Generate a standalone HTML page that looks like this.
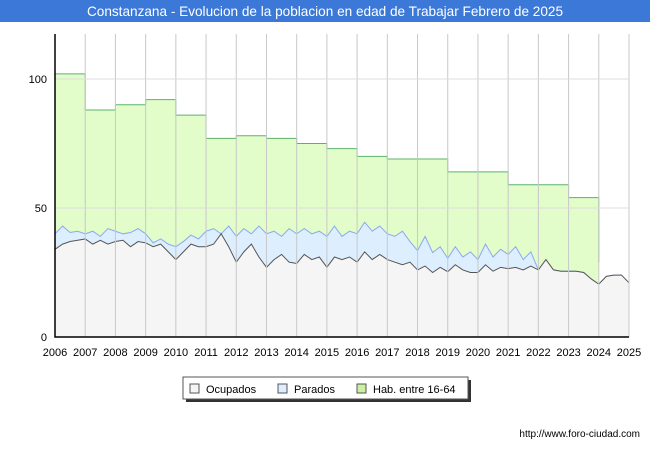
<!DOCTYPE html>
<html><head><meta charset="utf-8"><style>
body{margin:0;background:#fff;font-family:"Liberation Sans",sans-serif}
#wrap{position:relative;width:650px;height:450px;overflow:hidden}
</style></head><body>
<div id="wrap">
<svg id="svg" width="650" height="450" xmlns="http://www.w3.org/2000/svg">
<rect x="0" y="0" width="650" height="22" fill="#3c78d8"/>
<text x="325" y="16" fill="#fff" font-size="13.6" text-anchor="middle" font-family="Liberation Sans, sans-serif">Constanzana - Evolucion de la poblacion en edad de Trabajar Febrero de 2025</text>
<g id="plot"></g>
<g>
<rect x="186" y="380" width="285" height="22" fill="#333"/>
<rect x="183" y="377" width="285" height="22" fill="#fff" stroke="#555"/>
<rect x="190" y="384" width="9" height="9" fill="#f5f5f5" stroke="#555"/>
<text x="206" y="393" font-size="11">Ocupados</text>
<rect x="278" y="384" width="9" height="9" fill="#ddeeff" stroke="#555"/>
<text x="294" y="393" font-size="11">Parados</text>
<rect x="357" y="384" width="9" height="9" fill="#ccf0a0" stroke="#555"/>
<text x="373" y="393" font-size="11">Hab. entre 16-64</text>
</g>
<text x="640" y="437" font-size="10" text-anchor="end">http://www.foro-ciudad.com</text>
</svg>
</div>
<script>
const years=[2006,2007,2008,2009,2010,2011,2012,2013,2014,2015,2016,2017,2018,2019,2020,2021,2022,2023,2024,2025];
const yTicks=[0,50,100];
const habValues=[102,88,90,92,86,77,78,77,75,73,70,69,69,64,64,59,59,54];
const ocupados=[34,36,37,37.5,38,36,37.5,36,37,37.5,35,37,36.5,35,36,33,30,33,36,35,35,36,40,35,29,33,36,31,27,30,32,29,28.5,32,30,31,27,31,30,31,29,33,30,32,30,29,28,29,26,27.5,25,27,25.3,28,26,25,25,28,25.5,27,26.5,27,26,27.5,26,30,26,25.5,25.5,25.5,25,22.5,20.5,23.5,24,24,21];
const parados=[6,7,3.5,3.5,2,5,1.5,6,4,2.5,5.5,5,3.5,1.5,2,3,5,4,3.5,3,6,6,0,8,10,9,4,12,13,11,7,13,11.5,10,10,10,12,12,9,10,11,11.5,11,11,10,10,13,8,7.5,11.5,7.7,8,5.2,7,5,8,5,8,5.5,7,5.5,8,4,5.5,0,0,0,0,0,0,0,0,0,0,0,0,0];
const X0=55,X1=629,Y0=337,YTOP=34;
const xs=t=>X0+(t-2006)*(X1-X0)/19;
const ys=v=>Y0-v*(Y0-79)/100;
const NS="http://www.w3.org/2000/svg";
const g=document.getElementById('plot');
function mk(tag,attrs){const e=document.createElementNS(NS,tag);for(const k in attrs)e.setAttribute(k,attrs[k]);g.appendChild(e);return e;}
let hp=`M${xs(2006)},${ys(0)}`;
habValues.forEach((v,i)=>{hp+=` L${xs(2006+i)},${ys(v)} L${xs(2007+i)},${ys(v)}`;});
hp+=` L${xs(2024)},${ys(29)} L${xs(2024)},${ys(0)} Z`;
let e=mk('path',{d:hp,fill:'#e2fcca'});


let hl=`M${xs(2006)},${ys(habValues[0])}`;
habValues.forEach((v,i)=>{hl+=` L${xs(2006+i)},${ys(v)} L${xs(2007+i)},${ys(v)}`;});
hl+=` L${xs(2024)},${ys(29)}`;
e=mk('path',{d:hl,fill:'none',stroke:'#5bb36b','stroke-width':1});


const tt=ocupados.map((v,i)=>2006+i*0.25);
const total=ocupados.map((v,i)=>v+parados[i]);
let tp=`M${xs(tt[0])},${ys(0)}`;tt.forEach((t,i)=>tp+=` L${xs(t)},${ys(total[i])}`);tp+=` L${xs(tt[tt.length-1])},${ys(0)} Z`;
e=mk('path',{d:tp,fill:'#ddeeff'});


let tl=`M${xs(tt[0])},${ys(total[0])}`;tt.forEach((t,i)=>tl+=` L${xs(t)},${ys(total[i])}`);
e=mk('path',{d:tl,fill:'none',stroke:'#8aaaee','stroke-width':1});


let op=`M${xs(tt[0])},${ys(0)}`;tt.forEach((t,i)=>op+=` L${xs(t)},${ys(ocupados[i])}`);op+=` L${xs(tt[tt.length-1])},${ys(0)} Z`;
e=mk('path',{d:op,fill:'#f5f5f5'});


let ol=`M${xs(tt[0])},${ys(ocupados[0])}`;tt.forEach((t,i)=>ol+=` L${xs(t)},${ys(ocupados[i])}`);
e=mk('path',{d:ol,fill:'none',stroke:'#555','stroke-width':1});


years.forEach(y=>{
 const l=mk('line',{x1:xs(y),x2:xs(y),y1:YTOP,y2:Y0,stroke:'#c8c8c8'});
 
 
 const t=mk('text',{x:xs(y),y:356,'font-size':11,'text-anchor':'middle'});t.textContent=y;
 
 
});
yTicks.forEach(v=>{
 if(v>0){const l=mk('line',{x1:X0,x2:X1,y1:ys(v),y2:ys(v),stroke:'#dddddd'});
 
 }
 const t=mk('text',{x:47,y:ys(v)+4,'font-size':11,'text-anchor':'end'});t.textContent=v;
 
 
});
e=mk('path',{d:`M${X0},${YTOP} L${X0},${Y0} L${X1},${Y0}`,fill:'none',stroke:'#000','stroke-width':1.5});


</script>
</body></html>
